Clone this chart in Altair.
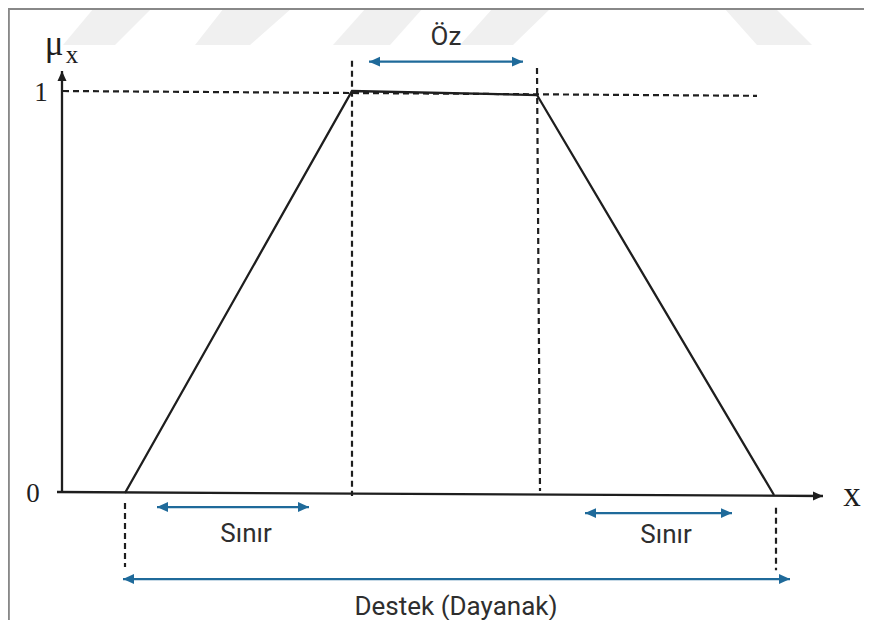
import altair as alt
import pandas as pd

# ---- diagram values (x in diagram units, mu = membership degree) ----
trap_x = [125, 352, 537, 774]
trap_mu = [0.0, 1.0, 0.99, -0.005]

# solid axes: x1, mu1, x2, mu2
axis_x1 = [57, 62]
axis_mu1 = [0.0025, 0.0]
axis_x2 = [823, 62]
axis_mu2 = [-0.0075, 1.05]
axis_head_angle = [0, 270]

# dashed guides: x1, mu1, x2, mu2
dash_x1 = [63, 352, 537, 125, 776]
dash_mu1 = [1.0, 1.075, 1.057, -0.025, -0.037]
dash_x2 = [757, 352, 540, 125, 776]
dash_mu2 = [0.988, -0.0075, 0.005, -0.184, -0.192]

# blue double arrows and their labels
span_labels = ["Öz", "Sınır", "Sınır", "Destek (Dayanak)"]
span_x1 = [369, 157, 585, 123]
span_x2 = [523, 309, 732, 790]
span_mu = [1.073, -0.035, -0.05, -0.214]
label_x = [446, 246, 666, 456]
label_mu = [1.1144, -0.1219, -0.1244, -0.3035]

# serif symbols
sym_text = ["μ", "x", "1", "0", "x"]
sym_x = [54, 72, 41, 33, 852]
sym_mu = [1.0896, 1.0697, 0.975, -0.0224, -0.0323]
sym_size = [35, 25, 27, 27, 35]

# faint background watermark bands (left/right x at top and at bottom)
wm_top_l = [94, 224, 366, 493, 724]
wm_top_r = [152, 292, 423, 551, 775]
wm_bot_l = [63, 195, 333, 460, 757]
wm_bot_r = [115, 250, 390, 513, 812]
wm_bot_mu = 1.1144

# ---- scales ----
W, H = 856, 612
MU0_PX, MU1_PX, TOP_PX = 493, 91, 8
px_per_mu = MU0_PX - MU1_PX
mu_top = (MU0_PX - TOP_PX) / px_per_mu
mu_bot = (MU0_PX - (TOP_PX + H)) / px_per_mu
x_min, x_max = 8, 8 + W
xs = alt.Scale(domain=[x_min, x_max], nice=False, zero=False)
ys = alt.Scale(domain=[mu_bot, mu_top], nice=False, zero=False)

BLACK = "#1e1e1e"
BLUE = "#1f6a9a"
ARROW = "M0,0 L-1,-0.45 L-1,0.45 Z"

def X(f):
    return alt.X(f, type="quantitative", scale=xs, axis=None)

def Y(f):
    return alt.Y(f, type="quantitative", scale=ys, axis=None)

trap = pd.DataFrame({"x": trap_x, "mu": trap_mu, "o": range(len(trap_x))})
axes = pd.DataFrame({"x1": axis_x1, "m1": axis_mu1, "x2": axis_x2, "m2": axis_mu2, "a": axis_head_angle})
dash = pd.DataFrame({"x1": dash_x1, "m1": dash_mu1, "x2": dash_x2, "m2": dash_mu2})
spans = pd.DataFrame({"x1": span_x1, "x2": span_x2, "m": span_mu})
heads = pd.DataFrame({
    "x": span_x2 + span_x1,
    "m": span_mu + span_mu,
    "a": [0] * len(span_x2) + [180] * len(span_x1),
})
labels = pd.DataFrame({"t": span_labels, "x": label_x, "m": label_mu})
syms = pd.DataFrame({"t": sym_text, "x": sym_x, "m": sym_mu, "s": sym_size})

wm_rows = []
for i in range(len(wm_top_l)):
    wm_rows.append({"b": i, "m": mu_top, "xl": wm_top_l[i], "xr": wm_top_r[i]})
    wm_rows.append({"b": i, "m": wm_bot_mu, "xl": wm_bot_l[i], "xr": wm_bot_r[i]})
wm = pd.DataFrame(wm_rows)

frame_df = pd.DataFrame({
    "x1": [x_min, x_min + 0.6],
    "x2": [x_max, x_min + 0.6],
    "m1": [mu_top - 0.002, mu_top],
    "m2": [mu_top - 0.002, mu_bot],
})

watermark = alt.Chart(wm).mark_area(orient="horizontal", color="#f0f0f0", opacity=1).encode(
    y=Y("m"), x=X("xl"), x2="xr", detail="b:N")

frame = alt.Chart(frame_df).mark_rule(color="#888888", strokeWidth=2.5).encode(
    x=X("x1"), y=Y("m1"), x2="x2", y2="m2")

trap_line = alt.Chart(trap).mark_line(color=BLACK, strokeWidth=2.3).encode(
    x=X("x"), y=Y("mu"), order="o:Q")

axis_lines = alt.Chart(axes).mark_rule(color=BLACK, strokeWidth=2.3).encode(
    x=X("x1"), y=Y("m1"), x2="x2", y2="m2")
axis_heads = alt.Chart(axes).mark_point(shape=ARROW, filled=True, color=BLACK, opacity=1, size=400).encode(
    x=X("x2"), y=Y("m2"), angle=alt.Angle("a:Q", scale=None))

dash_lines = alt.Chart(dash).mark_rule(color=BLACK, strokeWidth=2.2, strokeDash=[6, 4]).encode(
    x=X("x1"), y=Y("m1"), x2="x2", y2="m2")

span_lines = alt.Chart(spans).mark_rule(color=BLUE, strokeWidth=2.2).encode(
    x=X("x1"), x2="x2", y=Y("m"))
span_heads = alt.Chart(heads).mark_point(shape=ARROW, filled=True, color=BLUE, opacity=1, size=484).encode(
    x=X("x"), y=Y("m"), angle=alt.Angle("a:Q", scale=None))

label_text = alt.Chart(labels).mark_text(font="Roboto", fontSize=26, color="#2e2e2e",
                                          align="center", baseline="alphabetic").encode(
    x=X("x"), y=Y("m"), text="t:N")

sym_marks = alt.Chart(syms).mark_text(font="Liberation Serif", color="#1e1e1e",
                                      align="center", baseline="alphabetic").encode(
    x=X("x"), y=Y("m"), text="t:N", size=alt.Size("s:Q", scale=None, legend=None))

chart = alt.layer(
    watermark, frame, dash_lines, trap_line, axis_lines, axis_heads,
    span_lines, span_heads, label_text, sym_marks
).properties(
    width=W, height=H, padding=0,
    autosize=alt.AutoSizeParams(type="none")
).configure_view(strokeWidth=0, stroke="transparent")

chart.save("out.html", embed_options={"renderer": "svg", "actions": False})
